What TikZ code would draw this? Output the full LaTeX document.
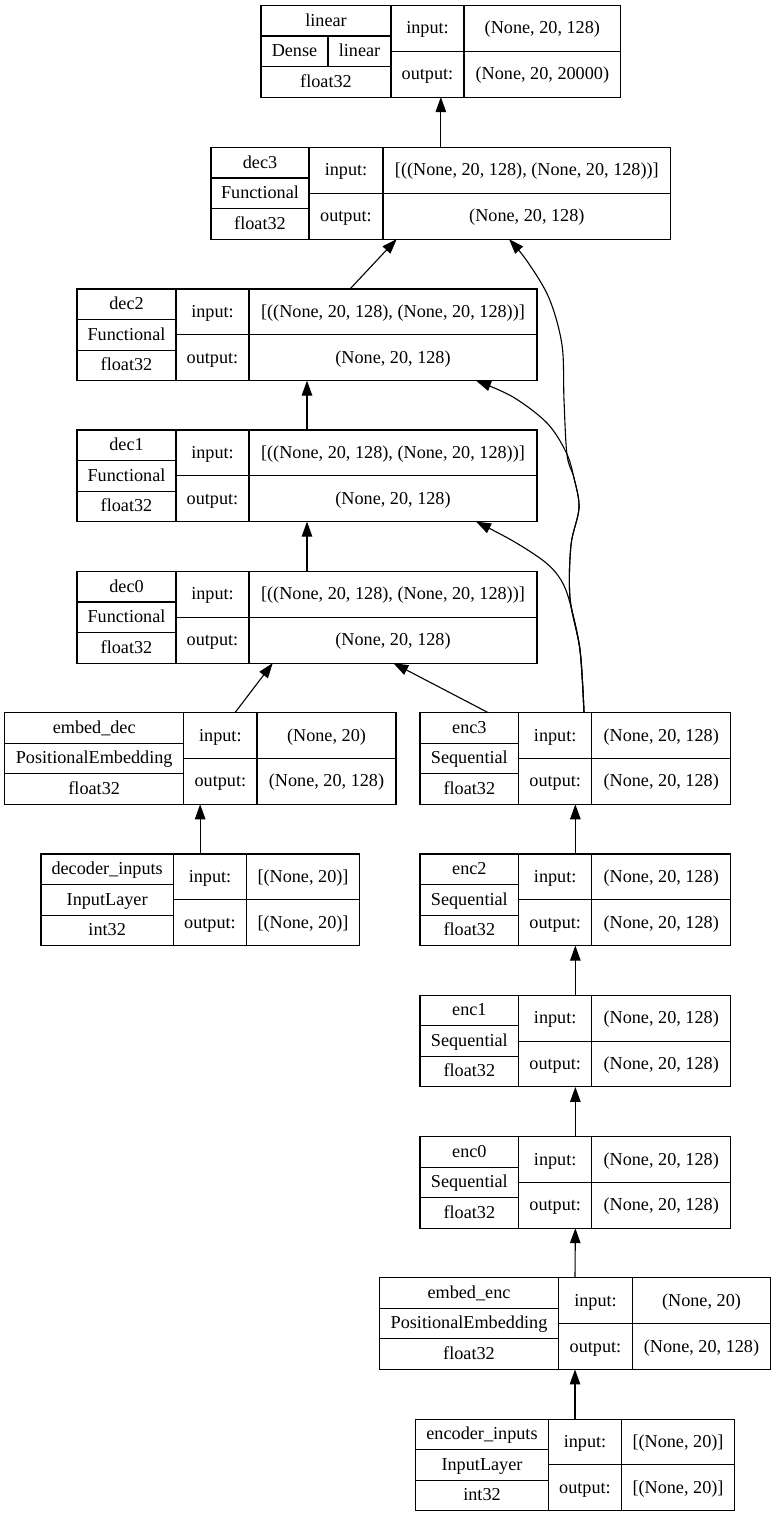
\documentclass[tikz,border=0pt]{standalone}
\usepackage{fontspec}
\setmainfont{Liberation Serif}
\usetikzlibrary{arrows.meta}
\tikzset{
  box/.style={draw, line width=1.1pt, inner sep=0pt, outer sep=0pt, anchor=north west, minimum height=91.6pt},
  cell/.style={line width=1.1pt},
  txt/.style={anchor=base, inner sep=0pt, font=\fontsize{18.2}{22}\selectfont},
  arr/.style={line width=1.1pt, -{Triangle[length=15pt,width=10.5pt]}},
}
\newcommand\kgeom[6]{\def\kname{#1}\def\kxo{#2}\def\kxa{#3}\def\kxb{#4}\def\kxc{#5}\def\kyt{#6}}
\newcommand\klayer[5]{%
  \node[box, minimum width={\kxc-\kxo}] (\kname) at (\kxo,\kyt) {};
  \draw[cell] (\kxa,\kyt) -- (\kxa,{\kyt+91.6});
  \draw[cell] (\kxb,\kyt) -- (\kxb,{\kyt+91.6});
  \draw[cell] (\kxo,{\kyt+91.6/3}) -- (\kxa,{\kyt+91.6/3});
  \draw[cell] (\kxo,{\kyt+2*91.6/3}) -- (\kxa,{\kyt+2*91.6/3});
  \draw[cell] (\kxa,{\kyt+45.8}) -- (\kxc,{\kyt+45.8});
  \node[txt] at ({(\kxo+\kxa)/2},{\kyt+20.6}) {#1};
  \node[txt] at ({(\kxo+\kxa)/2},{\kyt+51.1}) {#2};
  \node[txt] at ({(\kxo+\kxa)/2},{\kyt+81.6}) {#3};
  \node[txt] at ({(\kxa+\kxb)/2},{\kyt+28.4}) {input:};
  \node[txt] at ({(\kxa+\kxb)/2},{\kyt+74.2}) {output:};
  \node[txt] at ({(\kxb+\kxc)/2},{\kyt+28.4}) {#4};
  \node[txt] at ({(\kxb+\kxc)/2},{\kyt+74.2}) {#5};
}
\begin{document}
\begin{tikzpicture}[x=1pt,y=-1pt]
\useasboundingbox (0,0) rectangle (776,1517);
% linear
\kgeom{linear}{261}{391}{464}{620.7}{5.5}
\klayer{linear}{}{float32}{(None, 20, 128)}{(None, 20, 20000)}
\draw[cell] (328,{5.5+91.6/3}) -- (328,{5.5+2*91.6/3});
\node[txt] at (294.5,56.6) {Dense};
\node[txt] at (359.5,56.6) {linear};
% decoders
\kgeom{dec3}{211}{309}{383}{670.7}{147.5}
\klayer{dec3}{Functional}{float32}{[((None, 20, 128), (None, 20, 128))]}{(None, 20, 128)}
\kgeom{dec2}{77}{176}{249}{537}{289}
\klayer{dec2}{Functional}{float32}{[((None, 20, 128), (None, 20, 128))]}{(None, 20, 128)}
\kgeom{dec1}{77}{176}{249}{537}{430}
\klayer{dec1}{Functional}{float32}{[((None, 20, 128), (None, 20, 128))]}{(None, 20, 128)}
\kgeom{dec0}{77}{176}{249}{537}{571.5}
\klayer{dec0}{Functional}{float32}{[((None, 20, 128), (None, 20, 128))]}{(None, 20, 128)}
% embed_dec / decoder_inputs
\kgeom{embeddec}{4.7}{183.7}{257}{396}{712.7}
\klayer{embed\_dec}{PositionalEmbedding}{float32}{(None, 20)}{(None, 20, 128)}
\kgeom{decin}{41}{173.3}{246.7}{359.3}{854}
\klayer{decoder\_inputs}{InputLayer}{int32}{[(None, 20)]}{[(None, 20)]}
% encoders
\kgeom{enc3}{420}{518.7}{591.7}{730.7}{712.7}
\klayer{enc3}{Sequential}{float32}{(None, 20, 128)}{(None, 20, 128)}
\kgeom{enc2}{420}{518.7}{591.7}{730.7}{854}
\klayer{enc2}{Sequential}{float32}{(None, 20, 128)}{(None, 20, 128)}
\kgeom{enc1}{420}{518.7}{591.7}{730.7}{995.3}
\klayer{enc1}{Sequential}{float32}{(None, 20, 128)}{(None, 20, 128)}
\kgeom{enc0}{420}{518.7}{591.7}{730.7}{1136.6}
\klayer{enc0}{Sequential}{float32}{(None, 20, 128)}{(None, 20, 128)}
\kgeom{embedenc}{379.3}{558.7}{632.3}{770.7}{1277.8}
\klayer{embed\_enc}{PositionalEmbedding}{float32}{(None, 20)}{(None, 20, 128)}
\kgeom{encin}{415.7}{548.3}{621.7}{734.3}{1419.1}
\klayer{encoder\_inputs}{InputLayer}{int32}{[(None, 20)]}{[(None, 20)]}
% straight edges
\draw[arr] (dec3.north) -- (linear.south);
\draw[arr] ([xshift=273pt]dec2.north west) -- ([xshift=185.7pt]dec3.south west);
\draw[arr] (dec1.north) -- (dec2.south);
\draw[arr] (dec0.north) -- (dec1.south);
\draw[arr] ([xshift=230.3pt]embeddec.north west) -- ([xshift=195.7pt]dec0.south west);
\draw[arr] ([xshift=68.3pt]enc3.north west) -- ([xshift=316.3pt]dec0.south west);
\draw[arr] (decin.north) -- (decin.north |- embeddec.south);
\draw[arr] (enc2.north) -- (enc3.south);
\draw[arr] (enc1.north) -- (enc2.south);
\draw[arr] (enc0.north) -- (enc1.south);
\draw[arr] (embedenc.north) -- (enc0.south);
\draw[arr] (encin.north) -- (embedenc.south);
% skip edges from enc3
\coordinate (e3out) at ([xshift=164pt]enc3.north west);
\coordinate (d3in) at ([xshift=298pt]dec3.south west);
\coordinate (d2in) at ([xshift=399pt]dec2.south west);
\coordinate (d1in) at ([xshift=399pt]dec1.south west);
\draw[arr] plot[smooth, tension=0.55] coordinates {(e3out) (580,650) (570,598) (571,545) (579,508) (574,478) (567,455) (564,400) (562,345) (549,298) (527,261) (d3in)};
\draw[arr] plot[smooth, tension=0.55] coordinates {(e3out) (580,650) (570,598) (571,545) (579,508) (574,478) (566,452) (547,423) (513,397) (d2in)};
\draw[arr] plot[smooth, tension=0.55] coordinates {(e3out) (580,650) (570,603) (561,580) (545,562) (513,541) (d1in)};
\end{tikzpicture}
\end{document}
